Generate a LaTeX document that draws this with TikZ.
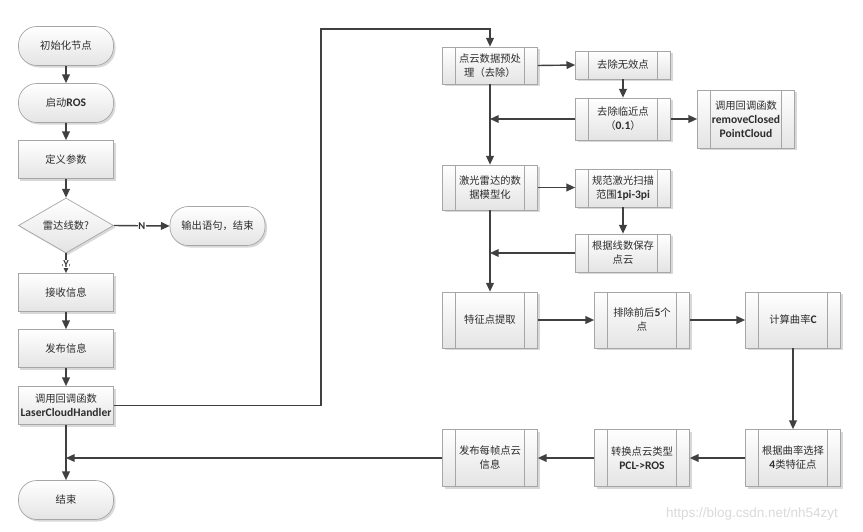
\documentclass[tikz,border=0pt]{standalone}
\usepackage{fontspec}
\setmainfont{Noto Sans CJK SC}
\newfontfamily\latfont[Scale=1.12]{Carlito}
\newfontfamily\markfont{Liberation Sans}
\usetikzlibrary{arrows.meta, shapes.geometric, shadows}
\definecolor{linecol}{RGB}{64, 64, 64}
\definecolor{edgecol}{RGB}{166, 166, 166}
\definecolor{topcol}{RGB}{255, 255, 255}
\definecolor{botcol}{RGB}{228, 228, 228}
\definecolor{textcol}{RGB}{45, 45, 45}
\definecolor{markcol}{RGB}{218, 218, 218}
\newcommand{\entext}[1]{{\latfont\bfseries #1}}

\begin{document}
\begin{tikzpicture}[
    x=0.03cm, y=-0.03cm,
    font=\fontsize{8.8}{12}\selectfont,
    flow/.style={-{Triangle[length=2.6mm, width=2.3mm]}, line width=1.2pt, draw=linecol},
    wire/.style={line width=1.2pt, draw=linecol},
    box/.style={draw=edgecol, line width=0.6pt, top color=topcol, bottom color=botcol,
        text=textcol, align=center, inner sep=1pt,
        drop shadow={shadow xshift=0.06cm, shadow yshift=-0.06cm, fill=black!25, opacity=0.6}},
    procbox/.style={box, minimum width=2.85cm, minimum height=1.14cm},
    termbox/.style={procbox, minimum height=1.17cm, rounded corners=0.55cm},
    decbox/.style={box, diamond, aspect=1.73, inner sep=0pt, minimum width=2.85cm, minimum height=1.65cm},
    subbox/.style={box, minimum width=2.85cm, minimum height=1.14cm, path picture={
        \draw[draw=edgecol, line width=0.6pt]
            ([xshift=0.38cm]path picture bounding box.north west) -- ([xshift=0.38cm]path picture bounding box.south west)
            ([xshift=-0.38cm]path picture bounding box.north east) -- ([xshift=-0.38cm]path picture bounding box.south east);}},
    branchlabel/.style={fill=white, inner sep=0.6pt, text=textcol, font=\latfont\bfseries\footnotesize}
]

% canvas
\fill[white] (0,0) rectangle (863,532);

% Left column: node start-up
\node[termbox] (initnode)  at (66,46)    {初始化节点};
\node[termbox] (rosstart)  at (66,103)   {启动\entext{ROS}};
\node[procbox] (defparam)  at (66,159.5) {定义参数};
\node[decbox]  (linecheck) at (66,225.5) {雷达线数?};
\node[termbox] (outmsg)    at (217.5,226) {输出语句，结束};
\node[procbox] (recvmsg)   at (66,292.5) {接收信息};
\node[procbox] (pubmsg)    at (66,348.5) {发布信息};
\node[procbox] (lasercb)   at (66,405.5) {调用回调函数\\\entext{LaserCloudHandler}};
\node[termbox] (endnode)   at (66,500)   {结束};

% Preprocessing
\node[subbox, minimum height=1.11cm] (preproc)   at (490,65.5) {点云数据预处\\理（去除）};
\node[subbox, minimum height=0.84cm] (rminvalid) at (623,65)   {去除无效点};
\node[subbox, minimum height=1.26cm] (rmnear)    at (623,119)  {去除临近点\\（\entext{0.1}）};
\node[subbox, minimum width=2.91cm, minimum height=1.74cm] (nearcb) at (746,119)
    {调用回调函数\\\entext{removeClosed}\\\entext{PointCloud}};

% Data model
\node[subbox, minimum height=1.35cm] (lasermodel) at (490,187.5) {激光雷达的数\\据模型化};
\node[subbox] (scanrange) at (623,188) {规范激光扫描\\范围\entext{1pi-3pi}};
\node[subbox] (saveline)  at (623,253) {根据线数保存\\点云};

% Feature points
\node[subbox, minimum height=1.68cm] (featext)  at (490,320) {特征点提取};
\node[subbox, minimum height=1.68cm] (dropends) at (642,320) {排除前后\entext{5}个\\点};
\node[subbox, minimum height=1.68cm] (curvcalc) at (793,320) {计算曲率\entext{C}};
\node[subbox, minimum height=1.71cm] (featsel)  at (793,458) {根据曲率选择\\\entext{4}类特征点};
\node[subbox, minimum height=1.71cm] (pclconv)  at (642,458) {转换点云类型\\\entext{PCL->ROS}};
\node[subbox, minimum height=1.71cm] (pubcloud) at (490,458) {发布每帧点云\\信息};

% Left column flow
\draw[flow] (initnode) -- (rosstart);
\draw[flow] (rosstart) -- (defparam);
\draw[flow] (defparam) -- (linecheck);
\draw[flow] (linecheck.east) -- node[branchlabel] {N} (outmsg.west);
\draw[flow] (linecheck.south) -- node[branchlabel, pos=0.55] {Y} (recvmsg.north);
\draw[flow] (recvmsg) -- (pubmsg);
\draw[flow] (pubmsg) -- (lasercb);
\draw[flow] (lasercb) -- (endnode);

% Jump into the callback
\coordinate (cbturn) at (321,29);
\draw[flow] (lasercb.east) -| (cbturn) -| (preproc.north);

% Main callback stream
\draw[flow] (preproc) -- (lasermodel);
\draw[flow] (lasermodel) -- (featext);
\draw[flow] (preproc.east) -- (rminvalid.west);
\draw[flow] (rminvalid) -- (rmnear);
\draw[flow] (rmnear.east) -- (nearcb.west);
\draw[flow] (rmnear.west) -- (preproc.south |- rmnear.west);
\draw[flow] (lasermodel.east) -- (lasermodel.east -| scanrange.west);
\draw[flow] (scanrange) -- (saveline);
\draw[flow] (saveline.west) -- (lasermodel.south |- saveline.west);

% Feature chain and return
\draw[flow] (featext) -- (dropends);
\draw[flow] (dropends) -- (curvcalc);
\draw[flow] (curvcalc) -- (featsel);
\draw[flow] (featsel) -- (pclconv);
\draw[flow] (pclconv) -- (pubcloud);
\draw[flow] (pubcloud.west) -- (lasercb.south |- pubcloud.west);

% watermark
\node[text=markcol, font=\markfont\fontsize{11.5}{13}\selectfont] (mark) at (752,514) {https://blog.csdn.net/nh54zyt};

\end{tikzpicture}
\end{document}
